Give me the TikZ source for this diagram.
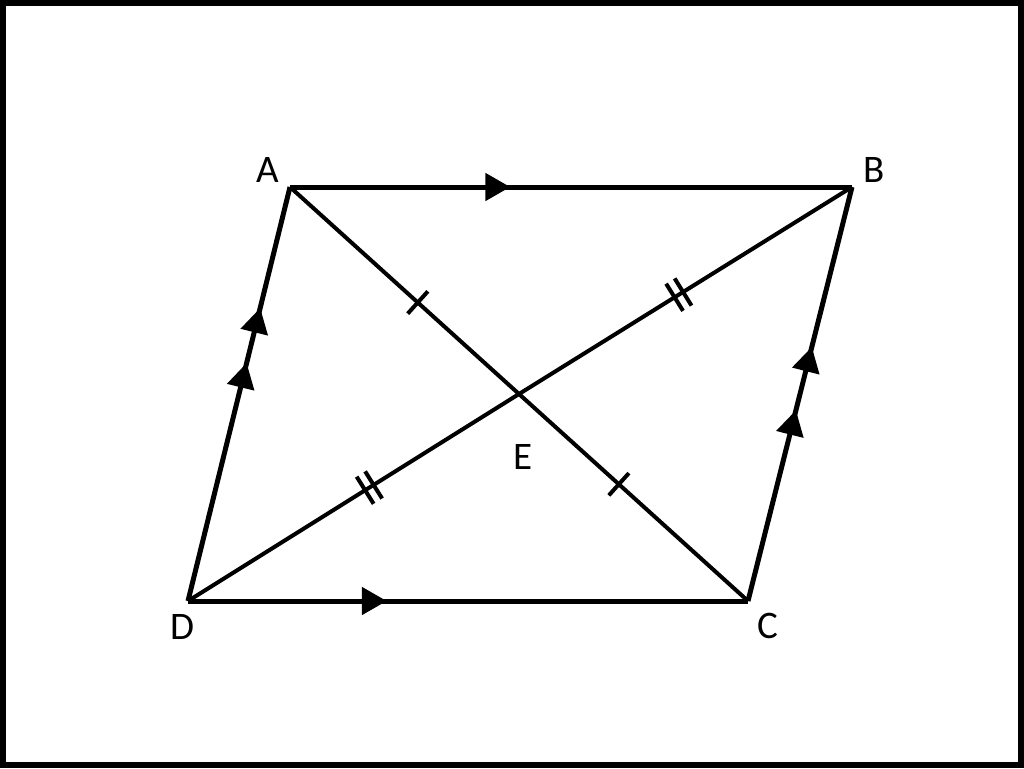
\documentclass[tikz,border=0pt]{standalone}
\usepackage{fontspec}
\setmainfont{Carlito}
\usetikzlibrary{arrows.meta,decorations.markings}
\tikzset{
  side/.style={line width=5pt},
  diag/.style={line width=4pt},
  lbl/.style={font=\fontsize{39}{41}\selectfont, inner sep=0pt},
  arr/.style={postaction={decorate},decoration={markings,mark=at position #1 with {\arrow{Triangle[length=25pt,width=27pt]}}}},
  arrtwo/.style 2 args={postaction={decorate},decoration={markings,
     mark=at position #1 with {\arrow{Triangle[length=25pt,width=27pt]}},
     mark=at position #2 with {\arrow{Triangle[length=25pt,width=27pt]}}}},
  tickone/.style={postaction={decorate},decoration={markings,mark=at position #1 with {\draw[line width=4pt] (0,-15pt)--(0,15pt);}}},
  ticktwo/.style={postaction={decorate},decoration={markings,mark=at position #1 with {\draw[line width=4pt] (-5pt,-16pt)--(-5pt,16pt) (5pt,-16pt)--(5pt,16pt);}}},
}
\begin{document}
\begin{tikzpicture}[x=1pt,y=-1pt]
\useasboundingbox (0,0) rectangle (1024,768);
\fill[white] (0,0) rectangle (1024,768);
\draw[line width=6pt] (3,3) rectangle (1021,765);
\coordinate (A) at (290,187);
\coordinate (B) at (852,187);
\coordinate (C) at (748,601);
\coordinate (D) at (188,601);
\coordinate (E) at (519,394);
% diagonals
\draw[diag,tickone=0.558] (A) -- (E);
\draw[diag,tickone=0.436] (E) -- (C);
\draw[diag,ticktwo=0.548] (D) -- (E);
\draw[diag,ticktwo=0.48] (E) -- (B);
% sides
\draw[side,line join=miter,arr=0.392] (A) -- (B);
\draw[side,arr=0.355] (D) -- (C);
\draw[side,arrtwo={0.575}{0.708}] (D) -- (A);
\draw[side,arrtwo={0.461}{0.614}] (C) -- (B);
% labels
\node[lbl] (lA) at (268,170) {A};
\node[lbl] (lB) at (874,170) {B};
\node[lbl] (lC) at (768,626) {C};
\node[lbl] (lD) at (182,627) {D};
\node[lbl] (lE) at (523,457) {E};
\end{tikzpicture}
\end{document}
